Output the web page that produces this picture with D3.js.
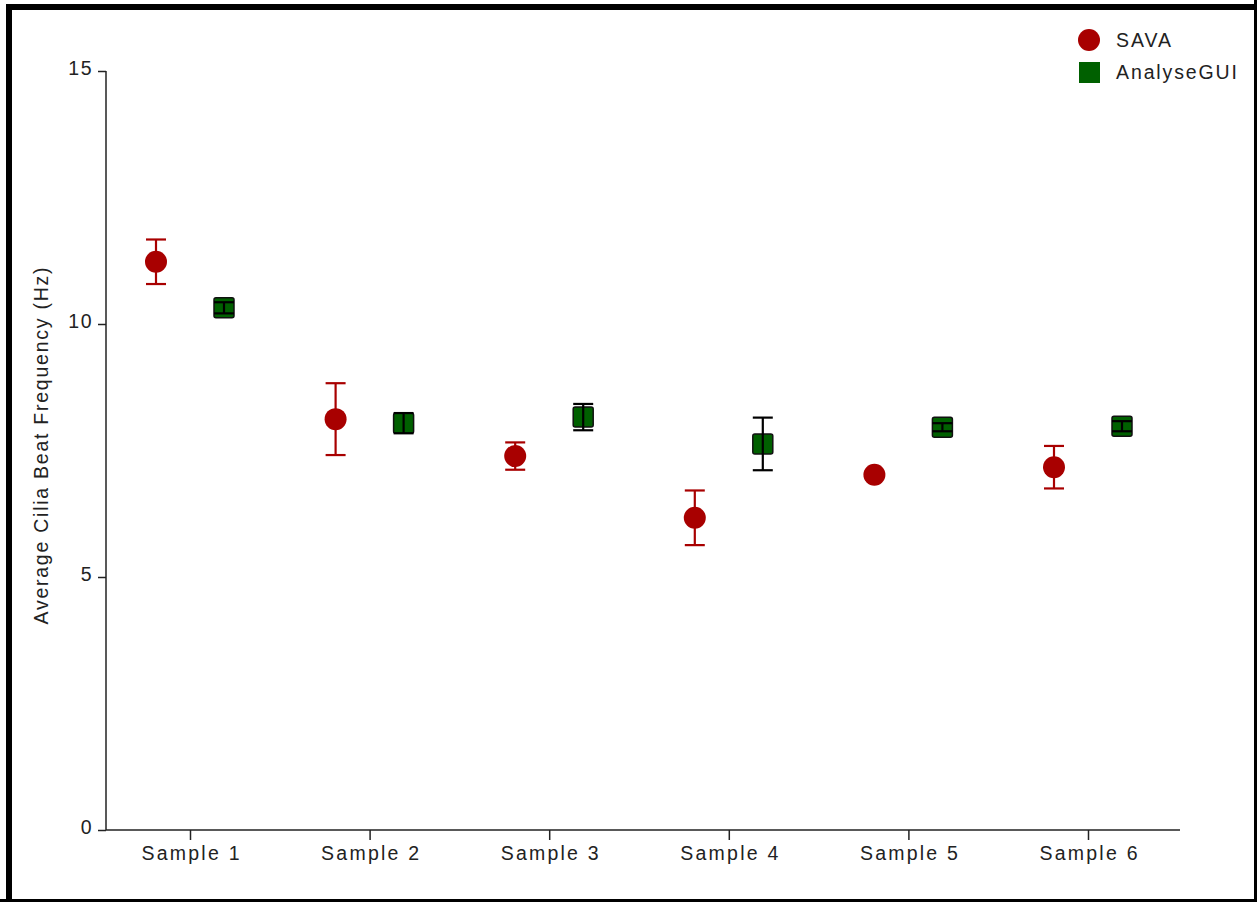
<!DOCTYPE html>
<html>
<head>
<meta charset="utf-8">
<script src="https://cdn.jsdelivr.net/npm/d3@7"></script>
<style>
  html, body { margin: 0; padding: 0; background: #fff; }
  svg { display: block; font-family: "Liberation Sans", Arial, sans-serif; }
</style>
</head>
<body>
<svg id="chart" width="1257" height="902"></svg>
<script>
// Sample categories and measured cilia beat frequencies (Hz)
const samples = ["Sample 1", "Sample 2", "Sample 3", "Sample 4", "Sample 5", "Sample 6"];
const savaMean = [11.23, 8.12, 7.39, 6.17, 7.02, 7.17];
const savaErr  = [0.44, 0.71, 0.27, 0.54, 0.04, 0.42];
const guiMean  = [10.32, 8.04, 8.16, 7.63, 7.96, 7.98];
const guiErr   = [0.11, 0.20, 0.26, 0.52, 0.08, 0.10];
const yTicks   = [0, 5, 10, 15];
const seriesNames = ["SAVA", "AnalyseGUI"];

const svg = d3.select("#chart");
const W = 1257, H = 902;
const FONT = "Liberation Sans, Arial, sans-serif";
const TEXT = "#222";
const FS = 19.5;

// outer frame
svg.append("rect").attr("x", 9).attr("y", 7).attr("width", W).attr("height", H)
  .attr("fill", "#fff").attr("stroke", "#000").attr("stroke-width", 6);
svg.append("rect").attr("x", 1254).attr("y", 0).attr("width", 3).attr("height", H).attr("fill", "#000");
svg.append("rect").attr("x", 0).attr("y", 899).attr("width", W).attr("height", 3).attr("fill", "#000");

const x = d3.scalePoint().domain(samples).range([190, 1088]);
const y = d3.scaleLinear().domain([0, 15]).range([830, 71]);
const offset = 34;

// axes
const yAxis = d3.axisLeft(y).tickValues(yTicks).tickSize(8).tickPadding(5).tickSizeOuter(0);
const gy = svg.append("g").attr("transform", "translate(106,0)").call(yAxis);
gy.select(".domain").attr("stroke", "#222").attr("stroke-width", 1.5).attr("d", `M0,${y(15)}V${y(0)}`);
gy.selectAll(".tick line").attr("stroke", "#222").attr("stroke-width", 1.5);
gy.selectAll(".tick text").attr("font-size", FS).attr("fill", TEXT)
  .attr("font-family", FONT).attr("letter-spacing", 1.5).attr("dy", "0.2em");

const xAxis = d3.axisBottom(x).tickSize(10).tickPadding(6).tickSizeOuter(0);
const gx = svg.append("g").attr("transform", "translate(0,830)").call(xAxis);
gx.select(".domain").attr("stroke", "#222").attr("stroke-width", 1.5).attr("d", "M106,0H1180");
gx.selectAll(".tick line").attr("stroke", "#222").attr("stroke-width", 1.5);
gx.selectAll(".tick text").attr("font-size", FS).attr("fill", TEXT)
  .attr("font-family", FONT).attr("textLength", 98).attr("lengthAdjust", "spacing");

// y-axis title
svg.append("text")
  .attr("transform", "translate(48,446) rotate(-90)")
  .attr("text-anchor", "middle")
  .attr("font-size", FS).attr("fill", TEXT)
  .attr("textLength", 357).attr("lengthAdjust", "spacing")
  .text("Average Cilia Beat Frequency (Hz)");

const savaColor = "#a80000";
const guiColor = "#006000";
const capW = 10;

// SAVA series: error bars then circles
const sava = svg.append("g");
samples.forEach((s, i) => {
  const cx = x(s) - offset;
  const hi = y(savaMean[i] + savaErr[i]), lo = y(savaMean[i] - savaErr[i]);
  const g = sava.append("g").attr("stroke", savaColor).attr("stroke-width", 2.2);
  g.append("line").attr("x1", cx).attr("x2", cx).attr("y1", hi).attr("y2", lo);
  g.append("line").attr("x1", cx - capW).attr("x2", cx + capW).attr("y1", hi).attr("y2", hi);
  g.append("line").attr("x1", cx - capW).attr("x2", cx + capW).attr("y1", lo).attr("y2", lo);
  sava.append("circle").attr("cx", cx).attr("cy", y(savaMean[i])).attr("r", 11).attr("fill", savaColor);
});

// AnalyseGUI series: squares then black error bars on top
const gui = svg.append("g");
samples.forEach((s, i) => {
  const cx = x(s) + offset;
  const cy = y(guiMean[i]);
  gui.append("rect").attr("x", cx - 10).attr("y", cy - 10).attr("width", 20).attr("height", 20)
    .attr("rx", 2).attr("fill", guiColor).attr("stroke", "#111").attr("stroke-width", 1.5);
  const hi = y(guiMean[i] + guiErr[i]), lo = y(guiMean[i] - guiErr[i]);
  const g = gui.append("g").attr("stroke", "#000").attr("stroke-width", 2.2);
  g.append("line").attr("x1", cx).attr("x2", cx).attr("y1", hi).attr("y2", lo);
  g.append("line").attr("x1", cx - capW).attr("x2", cx + capW).attr("y1", hi).attr("y2", hi);
  g.append("line").attr("x1", cx - capW).attr("x2", cx + capW).attr("y1", lo).attr("y2", lo);
});

// legend
const legend = svg.append("g");
legend.append("circle").attr("cx", 1089).attr("cy", 40).attr("r", 11).attr("fill", savaColor);
legend.append("rect").attr("x", 1079).attr("y", 62).attr("width", 21).attr("height", 21).attr("fill", guiColor);
const legendWidths = [55, 121];
legend.selectAll("text").data(seriesNames).join("text")
  .attr("x", 1116).attr("y", (d, i) => 47 + i * 32)
  .attr("font-size", FS).attr("fill", TEXT)
  .attr("textLength", (d, i) => legendWidths[i]).attr("lengthAdjust", "spacing")
  .text(d => d);
</script>
</body>
</html>
